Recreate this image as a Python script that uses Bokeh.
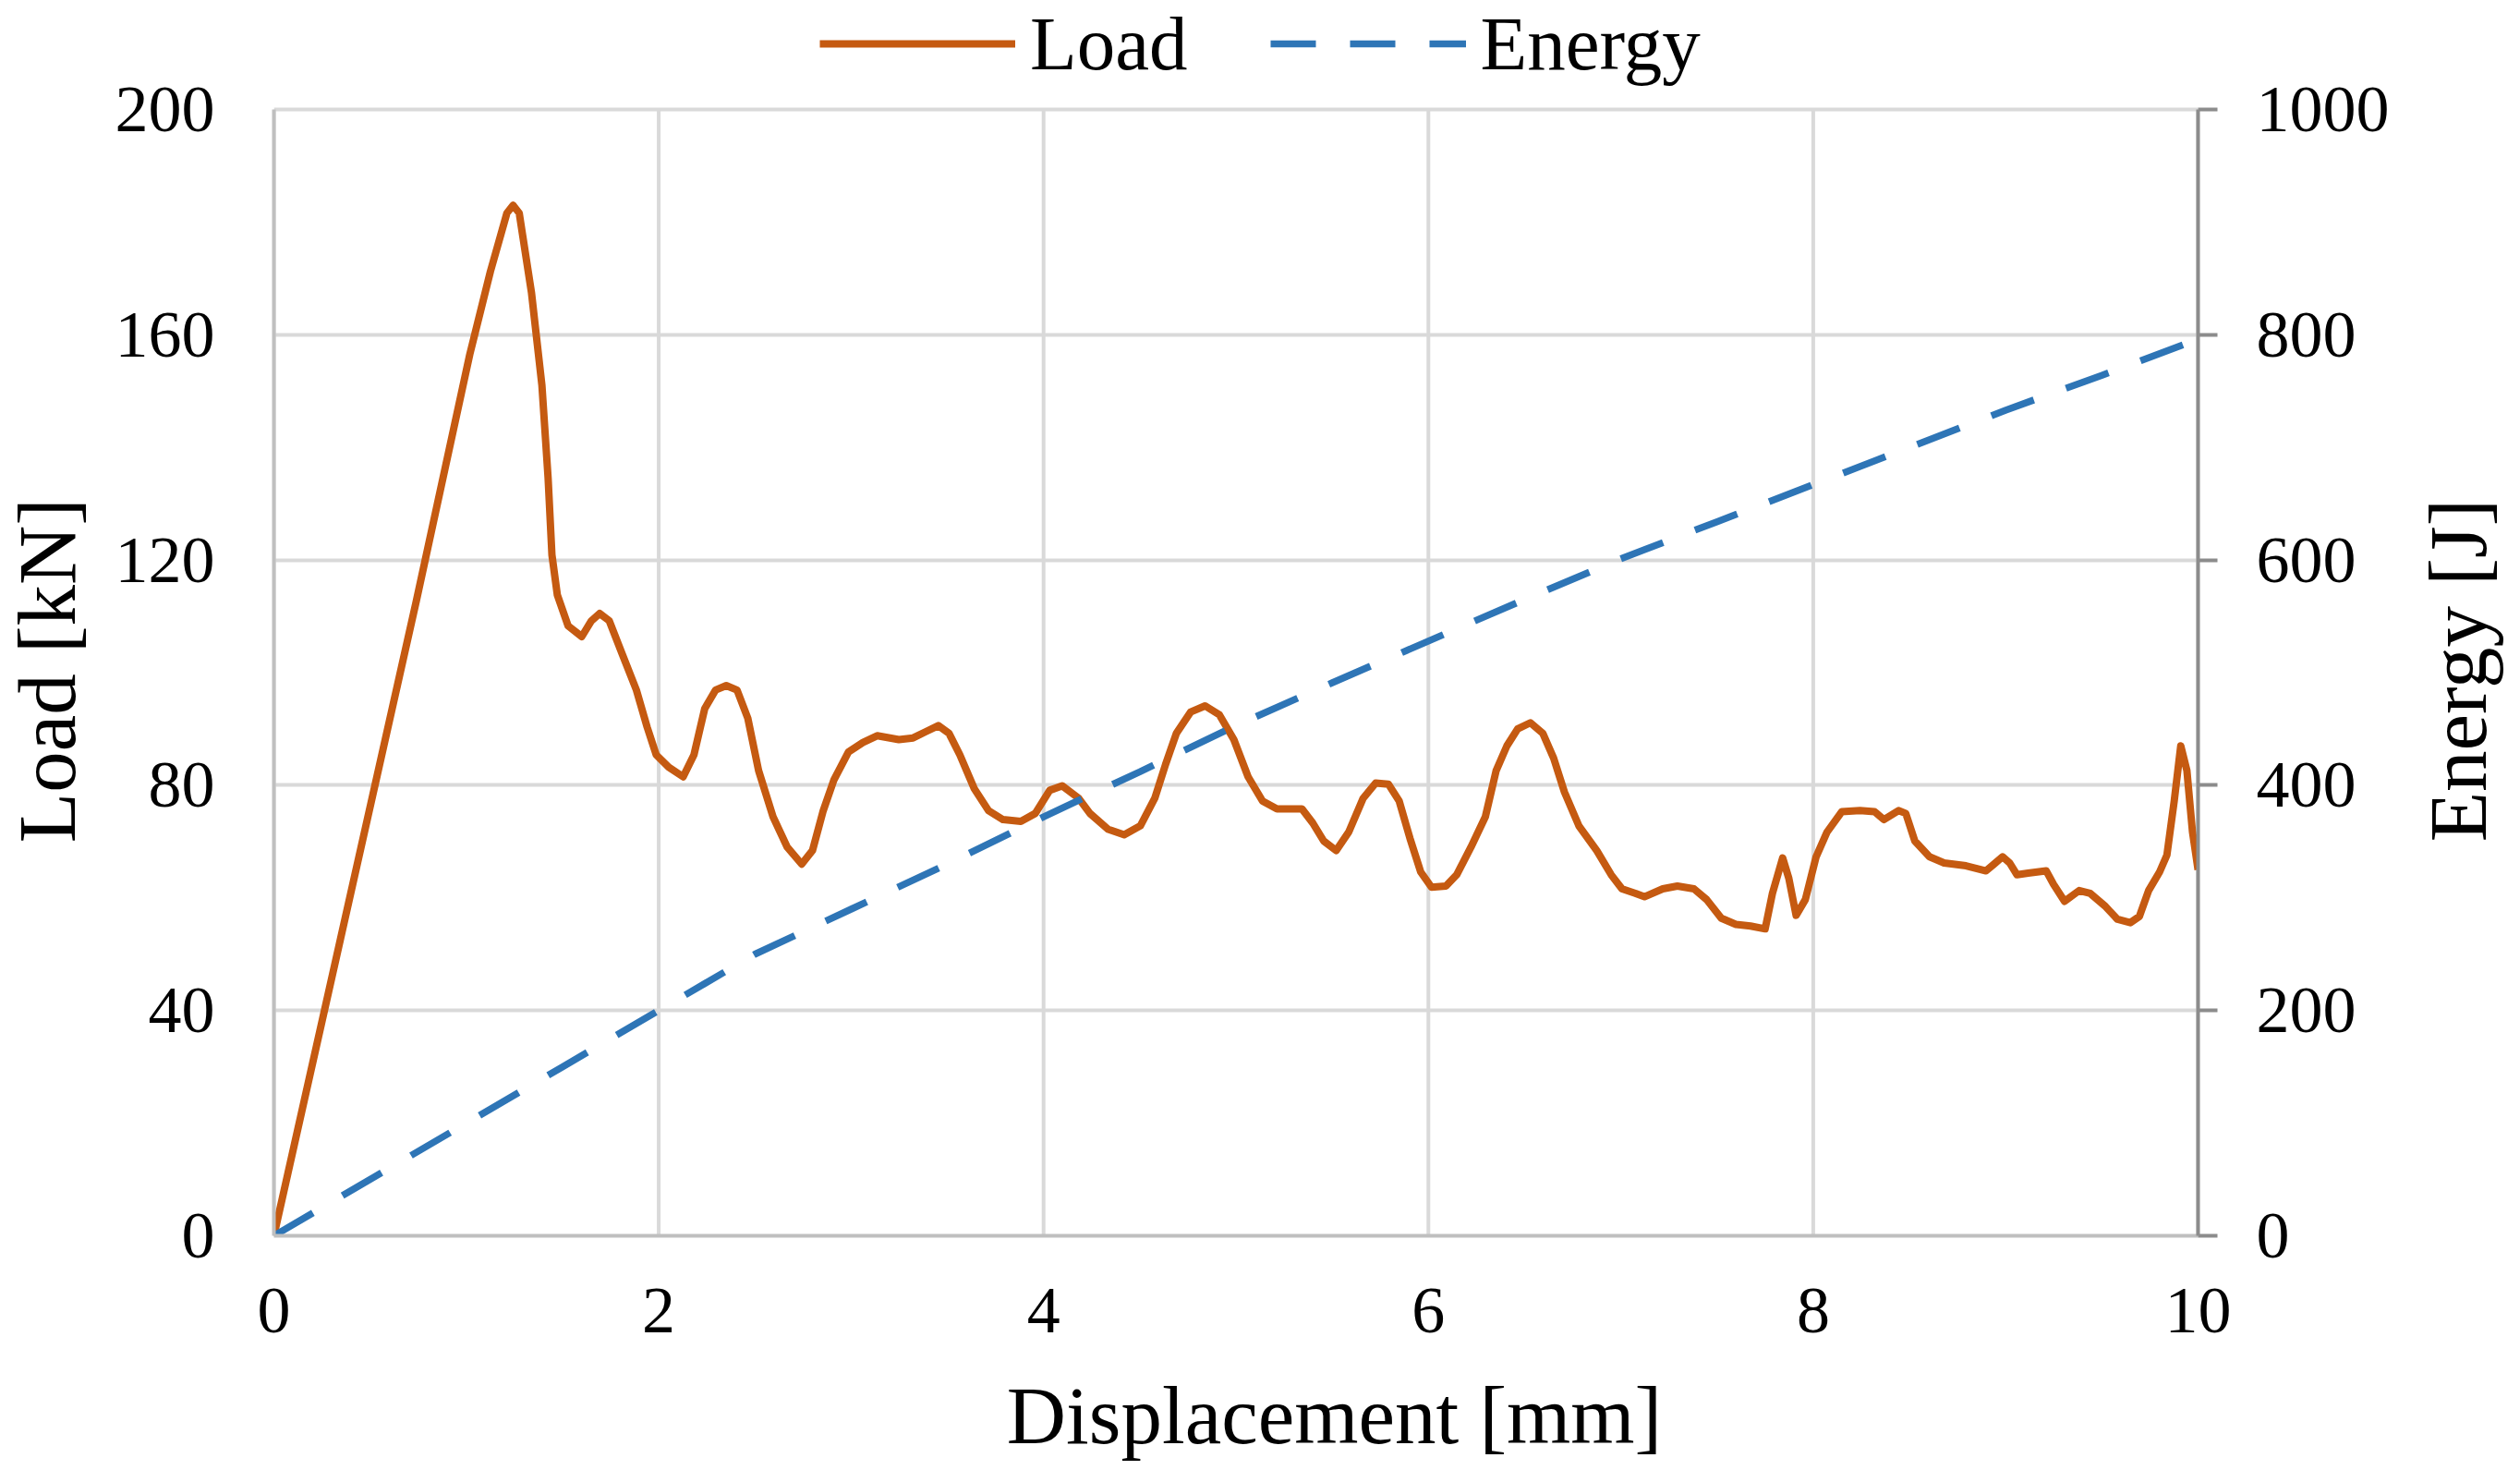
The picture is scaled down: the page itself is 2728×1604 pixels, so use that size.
import math
from bokeh.plotting import figure
from bokeh.layouts import row, column
from bokeh.models import Range1d, LinearAxis, Legend, LegendItem, FixedTicker
from bokeh.core.properties import value
from bokeh.embed import file_html
from bokeh.resources import INLINE

# ---- data ----
load_disp = [
    0, 0.74, 1.018, 1.125, 1.211, 1.243, 1.275, 1.339, 1.393, 1.425,
    1.445, 1.473, 1.529, 1.600, 1.650, 1.693, 1.743, 1.809, 1.884, 1.940,
    1.987, 2.052, 2.127, 2.183, 2.239, 2.295, 2.351, 2.407, 2.463, 2.519,
    2.594, 2.668, 2.743, 2.799, 2.855, 2.911, 2.986, 3.061, 3.135, 3.248,
    3.322, 3.387, 3.453, 3.509, 3.565, 3.640, 3.714, 3.789, 3.882, 3.957,
    4.032, 4.097, 4.182, 4.241, 4.335, 4.419, 4.503, 4.578, 4.634, 4.690,
    4.764, 4.839, 4.914, 4.989, 5.063, 5.138, 5.213, 5.343, 5.399, 5.456,
    5.521, 5.586, 5.661, 5.726, 5.792, 5.848, 5.904, 5.960, 6.016, 6.091,
    6.147, 6.221, 6.296, 6.352, 6.408, 6.464, 6.530, 6.595, 6.651, 6.707,
    6.782, 6.875, 6.950, 7.006, 7.077, 7.123, 7.218, 7.294, 7.380, 7.446,
    7.522, 7.598, 7.674, 7.750, 7.788, 7.841, 7.873, 7.911, 7.959, 8.015,
    8.072, 8.148, 8.243, 8.319, 8.367, 8.443, 8.481, 8.528, 8.604, 8.680,
    8.794, 8.898, 8.936, 8.984, 9.021, 9.059, 9.117, 9.211, 9.249, 9.306,
    9.382, 9.439, 9.515, 9.581, 9.648, 9.695, 9.743, 9.800, 9.838, 9.876,
    9.910, 9.942, 9.971, 10.0,
]
load_kn = [
    0, 112.7, 156.5, 171.2, 181.6, 183.0, 181.6, 167.4, 151.0, 134.6,
    120.9, 113.8, 108.3, 106.4, 109.2, 110.5, 109.2, 103.4, 96.9, 90.3,
    85.4, 83.2, 81.5, 85.4, 93.6, 96.9, 97.7, 96.9, 91.9, 82.6,
    74.4, 69.0, 66.0, 68.4, 75.5, 81.0, 85.9, 87.6, 88.8, 88.1,
    88.4, 89.5, 90.6, 89.2, 85.4, 79.4, 75.5, 73.9, 73.6, 75.0,
    79.1, 79.9, 77.7, 75.0, 72.2, 71.2, 72.8, 77.7, 83.7, 89.2,
    93.0, 94.1, 92.5, 88.1, 81.5, 77.2, 75.8, 75.8, 73.3, 70.1,
    68.4, 71.7, 77.7, 80.4, 80.2, 77.2, 70.6, 64.6, 61.9, 62.1,
    64.1, 69.0, 74.4, 82.6, 87.0, 90.0, 91.1, 89.2, 84.8, 78.8,
    72.8, 68.4, 64.1, 61.6, 60.8, 60.2, 61.6, 62.1, 61.6, 59.7,
    56.4, 55.3, 55.0, 54.5, 60.8, 67.1, 63.5, 56.9, 59.7, 67.3,
    71.7, 75.3, 75.5, 75.3, 73.9, 75.5, 75.0, 70.1, 67.3, 66.2,
    65.7, 64.8, 65.9, 67.3, 66.2, 64.1, 64.4, 64.8, 62.4, 59.4,
    61.3, 60.8, 58.6, 56.2, 55.6, 56.7, 61.3, 64.6, 67.6, 77.2,
    87.0, 82.6, 71.7, 65.0,
]
energy_disp = [0, 0.5, 1, 1.5, 2, 2.5, 3, 3.5, 4, 4.5, 5,
               5.5, 6, 6.5, 7, 7.5, 8, 8.5, 9, 9.5, 10]
energy_j = [0, 50, 100, 150, 200, 250, 290, 330, 372, 412, 453,
            491, 528, 565, 601, 634, 667, 700, 733, 764, 796]

x_ticks = [0, 2, 4, 6, 8, 10]
load_ticks = [0, 40, 80, 120, 160, 200]
energy_ticks = [0, 200, 400, 600, 800, 1000]

x_title = "Displacement [mm]"
load_title = "Load [kN]"
energy_title = "Energy [J]"

FONT = "Liberation Serif"
LOAD_COLOR = "#C55A11"
ENERGY_COLOR = "#2E75B6"
GRID_COLOR = "#d9d9d9"

# ---- layout geometry (pixels) ----
TOTAL_W, TOTAL_H = 2720, 1600
LEFT_W, RIGHT_W = 100, 120
MAIN_W = TOTAL_W - LEFT_W - RIGHT_W
TOP_H = 1477
BOTTOM_H = TOTAL_H - TOP_H
FRAME_L, FRAME_R = 296, 2379          # absolute x of plot area
FRAME_T, FRAME_B = 118, 1337          # absolute y of plot area (value 200 / 0)

# the frame extends to the top edge so the legend can sit above "200"
scale_top = FRAME_B / (FRAME_B - FRAME_T)
y_top = load_ticks[-1] * scale_top
e_top = energy_ticks[-1] * scale_top

p = figure(width=MAIN_W, height=TOP_H, output_backend="svg", toolbar_location=None,
           x_range=Range1d(x_ticks[0], x_ticks[-1]), y_range=Range1d(0, y_top),
           min_border_left=FRAME_L - LEFT_W, min_border_right=LEFT_W + MAIN_W - FRAME_R,
           min_border_top=0, min_border_bottom=TOP_H - FRAME_B)
p.outline_line_color = None
p.background_fill_color = "white"
p.border_fill_color = "white"
p.extra_y_ranges = {"energy": Range1d(0, e_top)}

# horizontal grid
p.xgrid.visible = False
p.ygrid.ticker = FixedTicker(ticks=load_ticks)
p.ygrid.grid_line_color = GRID_COLOR
p.ygrid.grid_line_width = 4

# vertical grid lines limited to the 0..200 band
vg = p.segment(x0=x_ticks, y0=[load_ticks[0]] * len(x_ticks),
               x1=x_ticks, y1=[load_ticks[-1]] * len(x_ticks),
               line_color=GRID_COLOR, line_width=4)
vg.level = "underlay"

# bottom axis
xa = p.xaxis[0]
xa.ticker = FixedTicker(ticks=x_ticks)
xa.axis_line_color = "#bfbfbf"
xa.axis_line_width = 4
xa.major_tick_line_color = None
xa.minor_tick_line_color = None
xa.major_tick_out = 0
xa.major_label_standoff = 57

# left axis
ya = p.yaxis[0]
ya.ticker = FixedTicker(ticks=load_ticks)
ya.bounds = (load_ticks[0], load_ticks[-1])
ya.axis_line_color = "#bfbfbf"
ya.axis_line_width = 4
ya.major_tick_line_color = None
ya.minor_tick_line_color = None
ya.major_tick_out = 0
ya.major_label_standoff = 64

# right axis
ra = LinearAxis(y_range_name="energy", ticker=FixedTicker(ticks=energy_ticks),
                bounds=(energy_ticks[0], energy_ticks[-1]))
ra.axis_line_color = "#8c8c8c"
ra.axis_line_width = 4
ra.major_tick_line_color = "#8c8c8c"
ra.major_tick_line_width = 4
ra.major_tick_out = 21
ra.major_tick_in = 0
ra.minor_tick_line_color = None
ra.major_label_standoff = 42
p.add_layout(ra, "right")

for ax in (xa, ya, ra):
    ax.major_label_text_font = FONT
    ax.major_label_text_font_size = "72px"
    ax.major_label_text_color = "black"

r_load = p.line(load_disp, load_kn, line_color=LOAD_COLOR, line_width=8,
                line_join="round")
r_energy = p.line(energy_disp, energy_j, y_range_name="energy",
                  line_color=ENERGY_COLOR, line_width=7.5, line_dash="49 37")

LEG_H = 92
legend = Legend(items=[LegendItem(label="Load", renderers=[r_load]),
                       LegendItem(label="Energy", renderers=[r_energy])],
                orientation="horizontal",
                location=(887 - FRAME_L, FRAME_B - 49 - LEG_H // 2))
legend.label_text_font = FONT
legend.label_text_font_size = "83px"
legend.label_text_color = "black"
legend.glyph_width = 212
legend.glyph_height = LEG_H
legend.label_height = LEG_H
legend.label_standoff = 16
legend.spacing = 89
legend.padding = 0
legend.margin = 0
legend.border_line_color = None
legend.background_fill_alpha = 0
p.add_layout(legend, "center")


def text_panel(w, h, x, y, txt, angle):
    f = figure(width=w, height=h, output_backend="svg", toolbar_location=None,
               x_range=Range1d(0, w), y_range=Range1d(0, h),
               x_axis_location=None, y_axis_location=None,
               min_border=0)
    f.grid.visible = False
    f.outline_line_color = None
    f.background_fill_color = "white"
    f.border_fill_color = "white"
    f.text(x=[x], y=[y], text=[txt], angle=angle,
           text_font=value(FONT), text_font_size=value("89px"),
           text_color="black", text_align="center", text_baseline="middle")
    return f


SIDE_Y = TOP_H - 801        # screen position tuned so the titles centre on y≈731
left_panel = text_panel(LEFT_W, TOP_H, 50, SIDE_Y, load_title, math.pi / 2)
right_panel = text_panel(RIGHT_W, TOP_H, 2660 - LEFT_W - MAIN_W, SIDE_Y,
                         energy_title, math.pi / 2)
bottom_panel = text_panel(TOTAL_W, BOTTOM_H, 1444, BOTTOM_H - (1531 - TOP_H),
                          x_title, 0)

layout = column(row(left_panel, p, right_panel, spacing=0), bottom_panel, spacing=0)

open("out.html", "w").write(file_html(layout, INLINE))
